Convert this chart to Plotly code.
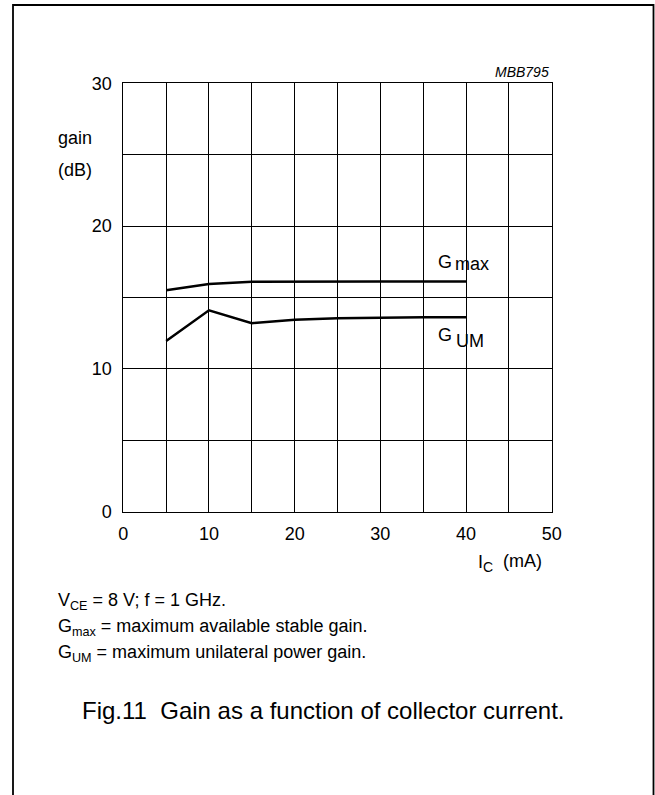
import plotly.graph_objects as go

W, H = 655, 795

ic_ma = [5, 10, 15, 20, 25, 30, 35, 40]
gmax_db = [15.5, 15.95, 16.1, 16.12, 16.12, 16.12, 16.12, 16.12]
gum_db = [11.95, 14.1, 13.2, 13.45, 13.55, 13.6, 13.62, 13.62]

x_ticks = [0, 10, 20, 30, 40, 50]
y_ticks = [0, 10, 20, 30]

FONT = "Liberation Sans, Arial, sans-serif"

x0, x1 = 123.3, 551.7
y0, y1 = 83.3, 511.7

fig = go.Figure()
fig.add_trace(go.Scatter(x=ic_ma, y=gmax_db, mode="lines",
                         line=dict(color="black", width=2.5), showlegend=False))
fig.add_trace(go.Scatter(x=ic_ma, y=gum_db, mode="lines",
                         line=dict(color="black", width=2.5), showlegend=False))

axis_common = dict(showgrid=True, gridcolor="black", gridwidth=1,
                   showline=True, linecolor="black", linewidth=1, mirror=True,
                   zeroline=False, ticks="", automargin=False,
                   tickfont=dict(family=FONT, size=18, color="black"),
                   minor=dict(dtick=5, showgrid=True, gridcolor="black", gridwidth=1, ticks=""))

fig.update_layout(
    width=W, height=H,
    margin=dict(l=0, r=0, t=0, b=0, autoexpand=False),
    paper_bgcolor="white", plot_bgcolor="white",
    xaxis=dict(range=[0, 50], tickmode="array", tickvals=x_ticks,
               domain=[x0 / W, x1 / W], ticklabelstandoff=6, **axis_common),
    yaxis=dict(range=[0, 30], tickmode="array", tickvals=y_ticks,
               domain=[1 - y1 / H, 1 - y0 / H], ticklabelstandoff=7, **axis_common),
    font=dict(family=FONT, color="black"),
)

def px(x, y):
    return x / W, 1 - y / H

def ann(text, x, y, size=18, xanchor="left", yanchor="middle", italic=False):
    ax, ay = px(x, y)
    t = f"<i>{text}</i>" if italic else text
    fig.add_annotation(text=t, x=ax, y=ay, xref="paper", yref="paper",
                       xanchor=xanchor, yanchor=yanchor, showarrow=False,
                       borderpad=0,
                       font=dict(family=FONT, size=size, color="black"))

ann("MBB795", 550, 72, size=14, xanchor="right", italic=True)
ann("gain", 57, 138, size=18)
ann("(dB)", 57, 170, size=18)
ann("G", 437, 261.5, size=18)
ann("max", 454, 263.5, size=18)
ann("G", 437, 335, size=18)
ann("UM", 455, 340.5, size=18)
ann("I", 477, 561.5, size=18)
ann("C", 482, 567, size=14)
ann("(mA)", 502, 561, size=18)

ann("V<sub>CE</sub> = 8 V; f = 1 GHz.", 57, 601, size=18)
ann("G<sub>max</sub> = maximum available stable gain.", 57, 627, size=18)
ann("G<sub>UM</sub> = maximum unilateral power gain.", 57, 653, size=18)
ann("Fig.11  Gain as a function of collector current.", 81, 710, size=24)

fx0, fy0 = px(13, 5)
fx1, _ = px(653.5, 0)
fig.add_shape(type="rect", xref="paper", yref="paper",
              x0=fx0, x1=fx1, y0=-0.05, y1=fy0,
              line=dict(color="black", width=1.8))

fig.write_html("out.html", config={"displayModeBar": False},
               post_script="document.body.style.margin='0px';document.body.style.overflow='hidden';")
